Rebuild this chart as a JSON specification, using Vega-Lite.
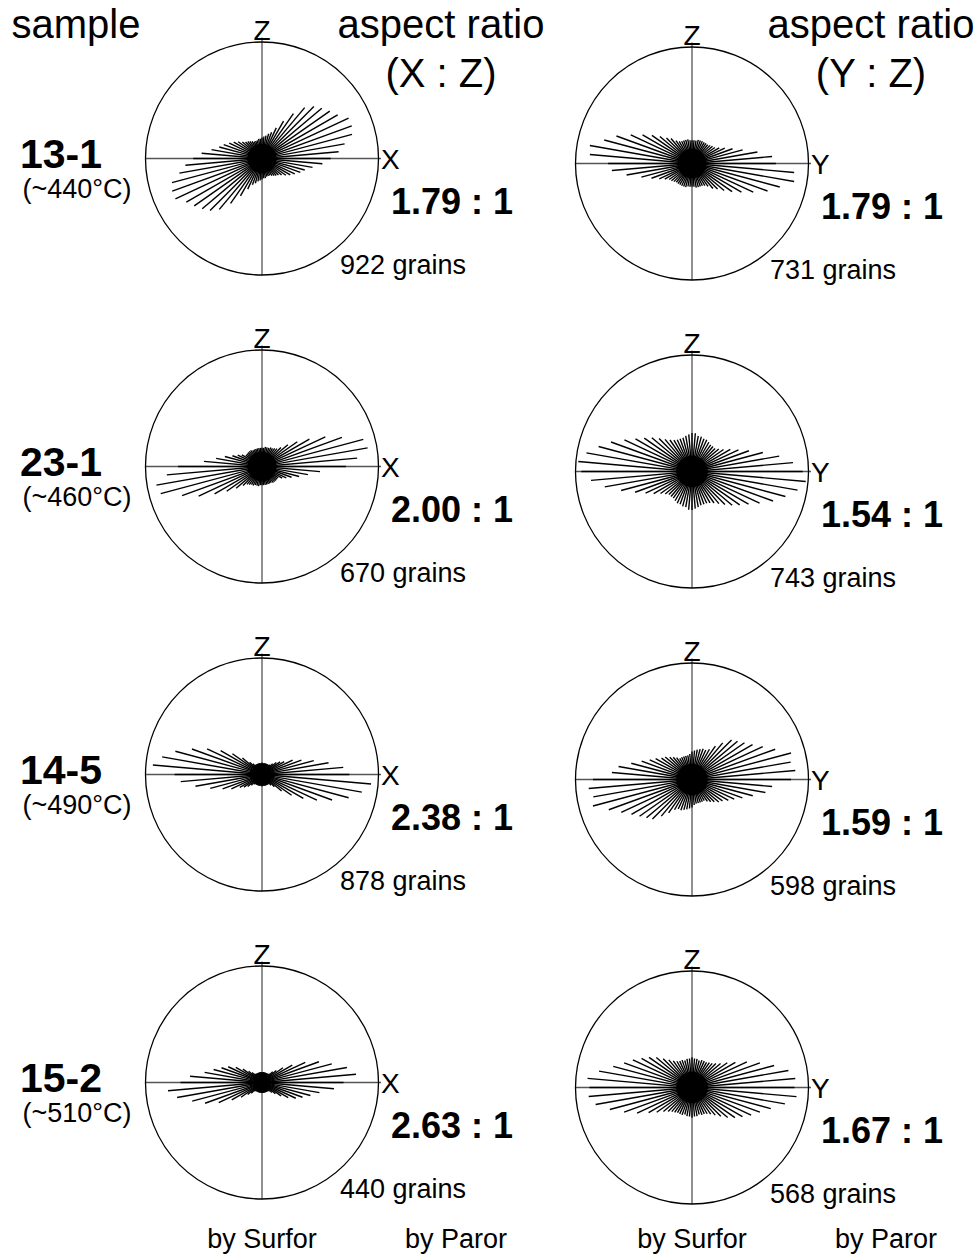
{
"$schema": "https://vega.github.io/schema/vega-lite/v6.json",
"width": 978, "height": 1255,
"autosize": {"type": "fit", "contains": "padding"},
"padding": 0,
"background": "white",
"config": {"view": {"stroke": null}, "text": {"font": "Liberation Sans", "color": "black"}},
"datasets": {
"panels": [
{"panel":0,"row":0,"col":0,"sample":"13-1","temp":"(~440°C)","plane":"X","ratio":"1.79 : 1","grains":922,"core":0.125},
{"panel":1,"row":0,"col":1,"sample":"13-1","temp":"(~440°C)","plane":"Y","ratio":"1.79 : 1","grains":731,"core":0.125},
{"panel":2,"row":1,"col":0,"sample":"23-1","temp":"(~460°C)","plane":"X","ratio":"2.00 : 1","grains":670,"core":0.125},
{"panel":3,"row":1,"col":1,"sample":"23-1","temp":"(~460°C)","plane":"Y","ratio":"1.54 : 1","grains":743,"core":0.135},
{"panel":4,"row":2,"col":0,"sample":"14-5","temp":"(~490°C)","plane":"X","ratio":"2.38 : 1","grains":878,"core":0.09},
{"panel":5,"row":2,"col":1,"sample":"14-5","temp":"(~490°C)","plane":"Y","ratio":"1.59 : 1","grains":598,"core":0.135},
{"panel":6,"row":3,"col":0,"sample":"15-2","temp":"(~510°C)","plane":"X","ratio":"2.63 : 1","grains":440,"core":0.075},
{"panel":7,"row":3,"col":1,"sample":"15-2","temp":"(~510°C)","plane":"Y","ratio":"1.67 : 1","grains":568,"core":0.135}
],
"captions": [
{"kind":"sampleHead","col":0,"text":"sample"},
{"kind":"head1","col":0,"text":"aspect ratio"},
{"kind":"head2","col":0,"text":"(X : Z)"},
{"kind":"head1","col":1,"text":"aspect ratio"},
{"kind":"head2","col":1,"text":"(Y : Z)"},
{"kind":"footL","col":0,"text":"by Surfor"},
{"kind":"footR","col":0,"text":"by Paror"},
{"kind":"footL","col":1,"text":"by Surfor"},
{"kind":"footR","col":1,"text":"by Paror"}
],
"rose": [
{"panel":0,"angle":0,"len":0.59},{"panel":0,"angle":5,"len":0.66},{"panel":0,"angle":10,"len":0.72},{"panel":0,"angle":15,"len":0.80},{"panel":0,"angle":20,"len":0.82},{"panel":0,"angle":25,"len":0.82},{"panel":0,"angle":30,"len":0.75},{"panel":0,"angle":35,"len":0.71},{"panel":0,"angle":40,"len":0.67},{"panel":0,"angle":45,"len":0.63},{"panel":0,"angle":50,"len":0.57},{"panel":0,"angle":55,"len":0.47},{"panel":0,"angle":60,"len":0.37},{"panel":0,"angle":65,"len":0.29},{"panel":0,"angle":70,"len":0.24},{"panel":0,"angle":75,"len":0.22},{"panel":0,"angle":80,"len":0.20},{"panel":0,"angle":85,"len":0.19},{"panel":0,"angle":90,"len":0.18},{"panel":0,"angle":95,"len":0.17},{"panel":0,"angle":100,"len":0.17},{"panel":0,"angle":105,"len":0.16},{"panel":0,"angle":110,"len":0.16},{"panel":0,"angle":115,"len":0.16},{"panel":0,"angle":120,"len":0.17},{"panel":0,"angle":125,"len":0.18},{"panel":0,"angle":130,"len":0.19},{"panel":0,"angle":135,"len":0.20},{"panel":0,"angle":140,"len":0.22},{"panel":0,"angle":145,"len":0.25},{"panel":0,"angle":150,"len":0.28},{"panel":0,"angle":155,"len":0.31},{"panel":0,"angle":160,"len":0.35},{"panel":0,"angle":165,"len":0.38},{"panel":0,"angle":170,"len":0.44},{"panel":0,"angle":175,"len":0.52},
{"panel":1,"angle":0,"len":0.72},{"panel":1,"angle":5,"len":0.69},{"panel":1,"angle":10,"len":0.57},{"panel":1,"angle":15,"len":0.45},{"panel":1,"angle":20,"len":0.37},{"panel":1,"angle":25,"len":0.31},{"panel":1,"angle":30,"len":0.27},{"panel":1,"angle":35,"len":0.24},{"panel":1,"angle":40,"len":0.23},{"panel":1,"angle":45,"len":0.22},{"panel":1,"angle":50,"len":0.21},{"panel":1,"angle":55,"len":0.21},{"panel":1,"angle":60,"len":0.21},{"panel":1,"angle":65,"len":0.21},{"panel":1,"angle":70,"len":0.21},{"panel":1,"angle":75,"len":0.21},{"panel":1,"angle":80,"len":0.20},{"panel":1,"angle":85,"len":0.20},{"panel":1,"angle":90,"len":0.20},{"panel":1,"angle":95,"len":0.20},{"panel":1,"angle":100,"len":0.21},{"panel":1,"angle":105,"len":0.21},{"panel":1,"angle":110,"len":0.21},{"panel":1,"angle":115,"len":0.21},{"panel":1,"angle":120,"len":0.22},{"panel":1,"angle":125,"len":0.24},{"panel":1,"angle":130,"len":0.28},{"panel":1,"angle":135,"len":0.31},{"panel":1,"angle":140,"len":0.36},{"panel":1,"angle":145,"len":0.42},{"panel":1,"angle":150,"len":0.49},{"panel":1,"angle":155,"len":0.58},{"panel":1,"angle":160,"len":0.69},{"panel":1,"angle":165,"len":0.78},{"panel":1,"angle":170,"len":0.89},{"panel":1,"angle":175,"len":0.88},
{"panel":2,"angle":0,"len":0.72},{"panel":2,"angle":5,"len":0.82},{"panel":2,"angle":10,"len":0.92},{"panel":2,"angle":15,"len":0.90},{"panel":2,"angle":20,"len":0.73},{"panel":2,"angle":25,"len":0.60},{"panel":2,"angle":30,"len":0.47},{"panel":2,"angle":35,"len":0.37},{"panel":2,"angle":40,"len":0.29},{"panel":2,"angle":45,"len":0.23},{"panel":2,"angle":50,"len":0.20},{"panel":2,"angle":55,"len":0.19},{"panel":2,"angle":60,"len":0.18},{"panel":2,"angle":65,"len":0.18},{"panel":2,"angle":70,"len":0.17},{"panel":2,"angle":75,"len":0.17},{"panel":2,"angle":80,"len":0.17},{"panel":2,"angle":85,"len":0.16},{"panel":2,"angle":90,"len":0.16},{"panel":2,"angle":95,"len":0.16},{"panel":2,"angle":100,"len":0.16},{"panel":2,"angle":105,"len":0.16},{"panel":2,"angle":110,"len":0.16},{"panel":2,"angle":115,"len":0.16},{"panel":2,"angle":120,"len":0.16},{"panel":2,"angle":125,"len":0.17},{"panel":2,"angle":130,"len":0.17},{"panel":2,"angle":135,"len":0.17},{"panel":2,"angle":140,"len":0.17},{"panel":2,"angle":145,"len":0.17},{"panel":2,"angle":150,"len":0.20},{"panel":2,"angle":155,"len":0.23},{"panel":2,"angle":160,"len":0.27},{"panel":2,"angle":165,"len":0.33},{"panel":2,"angle":170,"len":0.40},{"panel":2,"angle":175,"len":0.50},
{"panel":3,"angle":0,"len":0.95},{"panel":3,"angle":5,"len":0.87},{"panel":3,"angle":10,"len":0.76},{"panel":3,"angle":15,"len":0.63},{"panel":3,"angle":20,"len":0.52},{"panel":3,"angle":25,"len":0.44},{"panel":3,"angle":30,"len":0.38},{"panel":3,"angle":35,"len":0.33},{"panel":3,"angle":40,"len":0.30},{"panel":3,"angle":45,"len":0.28},{"panel":3,"angle":50,"len":0.28},{"panel":3,"angle":55,"len":0.28},{"panel":3,"angle":60,"len":0.29},{"panel":3,"angle":65,"len":0.30},{"panel":3,"angle":70,"len":0.30},{"panel":3,"angle":75,"len":0.31},{"panel":3,"angle":80,"len":0.31},{"panel":3,"angle":85,"len":0.33},{"panel":3,"angle":90,"len":0.33},{"panel":3,"angle":95,"len":0.32},{"panel":3,"angle":100,"len":0.31},{"panel":3,"angle":105,"len":0.30},{"panel":3,"angle":110,"len":0.30},{"panel":3,"angle":115,"len":0.30},{"panel":3,"angle":120,"len":0.31},{"panel":3,"angle":125,"len":0.33},{"panel":3,"angle":130,"len":0.36},{"panel":3,"angle":135,"len":0.40},{"panel":3,"angle":140,"len":0.45},{"panel":3,"angle":145,"len":0.50},{"panel":3,"angle":150,"len":0.56},{"panel":3,"angle":155,"len":0.64},{"panel":3,"angle":160,"len":0.74},{"panel":3,"angle":165,"len":0.83},{"panel":3,"angle":170,"len":0.92},{"panel":3,"angle":175,"len":0.98},
{"panel":4,"angle":0,"len":0.75},{"panel":4,"angle":5,"len":0.70},{"panel":4,"angle":10,"len":0.58},{"panel":4,"angle":15,"len":0.46},{"panel":4,"angle":20,"len":0.36},{"panel":4,"angle":25,"len":0.29},{"panel":4,"angle":30,"len":0.22},{"panel":4,"angle":35,"len":0.19},{"panel":4,"angle":40,"len":0.16},{"panel":4,"angle":45,"len":0.13},{"panel":4,"angle":50,"len":0.11},{"panel":4,"angle":55,"len":0.10},{"panel":4,"angle":60,"len":0.10},{"panel":4,"angle":65,"len":0.10},{"panel":4,"angle":70,"len":0.10},{"panel":4,"angle":75,"len":0.10},{"panel":4,"angle":80,"len":0.10},{"panel":4,"angle":85,"len":0.10},{"panel":4,"angle":90,"len":0.10},{"panel":4,"angle":95,"len":0.10},{"panel":4,"angle":100,"len":0.10},{"panel":4,"angle":105,"len":0.10},{"panel":4,"angle":110,"len":0.10},{"panel":4,"angle":115,"len":0.10},{"panel":4,"angle":120,"len":0.10},{"panel":4,"angle":125,"len":0.10},{"panel":4,"angle":130,"len":0.12},{"panel":4,"angle":135,"len":0.15},{"panel":4,"angle":140,"len":0.22},{"panel":4,"angle":145,"len":0.31},{"panel":4,"angle":150,"len":0.41},{"panel":4,"angle":155,"len":0.52},{"panel":4,"angle":160,"len":0.64},{"panel":4,"angle":165,"len":0.77},{"panel":4,"angle":170,"len":0.87},{"panel":4,"angle":175,"len":0.94},
{"panel":5,"angle":0,"len":0.85},{"panel":5,"angle":5,"len":0.89},{"panel":5,"angle":10,"len":0.86},{"panel":5,"angle":15,"len":0.88},{"panel":5,"angle":20,"len":0.76},{"panel":5,"angle":25,"len":0.67},{"panel":5,"angle":30,"len":0.60},{"panel":5,"angle":35,"len":0.55},{"panel":5,"angle":40,"len":0.51},{"panel":5,"angle":45,"len":0.48},{"panel":5,"angle":50,"len":0.41},{"panel":5,"angle":55,"len":0.35},{"panel":5,"angle":60,"len":0.30},{"panel":5,"angle":65,"len":0.28},{"panel":5,"angle":70,"len":0.28},{"panel":5,"angle":75,"len":0.27},{"panel":5,"angle":80,"len":0.26},{"panel":5,"angle":85,"len":0.25},{"panel":5,"angle":90,"len":0.24},{"panel":5,"angle":95,"len":0.22},{"panel":5,"angle":100,"len":0.21},{"panel":5,"angle":105,"len":0.21},{"panel":5,"angle":110,"len":0.21},{"panel":5,"angle":115,"len":0.21},{"panel":5,"angle":120,"len":0.21},{"panel":5,"angle":125,"len":0.23},{"panel":5,"angle":130,"len":0.25},{"panel":5,"angle":135,"len":0.27},{"panel":5,"angle":140,"len":0.30},{"panel":5,"angle":145,"len":0.32},{"panel":5,"angle":150,"len":0.36},{"panel":5,"angle":155,"len":0.40},{"panel":5,"angle":160,"len":0.46},{"panel":5,"angle":165,"len":0.54},{"panel":5,"angle":170,"len":0.64},{"panel":5,"angle":175,"len":0.69},
{"panel":6,"angle":0,"len":0.70},{"panel":6,"angle":5,"len":0.81},{"panel":6,"angle":10,"len":0.74},{"panel":6,"angle":15,"len":0.62},{"panel":6,"angle":20,"len":0.52},{"panel":6,"angle":25,"len":0.41},{"panel":6,"angle":30,"len":0.30},{"panel":6,"angle":35,"len":0.22},{"panel":6,"angle":40,"len":0.16},{"panel":6,"angle":45,"len":0.13},{"panel":6,"angle":50,"len":0.10},{"panel":6,"angle":55,"len":0.09},{"panel":6,"angle":60,"len":0.09},{"panel":6,"angle":65,"len":0.09},{"panel":6,"angle":70,"len":0.09},{"panel":6,"angle":75,"len":0.09},{"panel":6,"angle":80,"len":0.09},{"panel":6,"angle":85,"len":0.09},{"panel":6,"angle":90,"len":0.09},{"panel":6,"angle":95,"len":0.09},{"panel":6,"angle":100,"len":0.09},{"panel":6,"angle":105,"len":0.09},{"panel":6,"angle":110,"len":0.09},{"panel":6,"angle":115,"len":0.09},{"panel":6,"angle":120,"len":0.09},{"panel":6,"angle":125,"len":0.09},{"panel":6,"angle":130,"len":0.10},{"panel":6,"angle":135,"len":0.12},{"panel":6,"angle":140,"len":0.15},{"panel":6,"angle":145,"len":0.20},{"panel":6,"angle":150,"len":0.26},{"panel":6,"angle":155,"len":0.32},{"panel":6,"angle":160,"len":0.37},{"panel":6,"angle":165,"len":0.43},{"panel":6,"angle":170,"len":0.50},{"panel":6,"angle":175,"len":0.62},
{"panel":7,"angle":0,"len":0.88},{"panel":7,"angle":5,"len":0.89},{"panel":7,"angle":10,"len":0.84},{"panel":7,"angle":15,"len":0.73},{"panel":7,"angle":20,"len":0.62},{"panel":7,"angle":25,"len":0.52},{"panel":7,"angle":30,"len":0.43},{"panel":7,"angle":35,"len":0.37},{"panel":7,"angle":40,"len":0.32},{"panel":7,"angle":45,"len":0.29},{"panel":7,"angle":50,"len":0.27},{"panel":7,"angle":55,"len":0.26},{"panel":7,"angle":60,"len":0.25},{"panel":7,"angle":65,"len":0.25},{"panel":7,"angle":70,"len":0.25},{"panel":7,"angle":75,"len":0.24},{"panel":7,"angle":80,"len":0.25},{"panel":7,"angle":85,"len":0.25},{"panel":7,"angle":90,"len":0.26},{"panel":7,"angle":95,"len":0.25},{"panel":7,"angle":100,"len":0.25},{"panel":7,"angle":105,"len":0.24},{"panel":7,"angle":110,"len":0.25},{"panel":7,"angle":115,"len":0.25},{"panel":7,"angle":120,"len":0.26},{"panel":7,"angle":125,"len":0.28},{"panel":7,"angle":130,"len":0.31},{"panel":7,"angle":135,"len":0.35},{"panel":7,"angle":140,"len":0.40},{"panel":7,"angle":145,"len":0.45},{"panel":7,"angle":150,"len":0.50},{"panel":7,"angle":155,"len":0.56},{"panel":7,"angle":160,"len":0.62},{"panel":7,"angle":165,"len":0.70},{"panel":7,"angle":170,"len":0.81},{"panel":7,"angle":175,"len":0.90}
]
},
"encoding": {
"x": {"field": "px", "type": "quantitative", "scale": {"domain": [0, 978], "nice": false, "zero": false}, "axis": null},
"y": {"field": "py", "type": "quantitative", "scale": {"domain": [0, 1255], "reverse": true, "nice": false, "zero": false}, "axis": null}
},
"layer": [
{
"data": {"name": "panels"},
"transform": [
{"calculate": "262 + 430 * datum.col", "as": "cx"},
{"calculate": "158.5 + 308 * datum.row + 5 * datum.col", "as": "cy"},
{"calculate": "datum.cx - 116.5", "as": "px"},
{"calculate": "datum.cx + 119", "as": "px2"},
{"calculate": "datum.cy", "as": "py"}
],
"mark": {"type": "rule", "color": "#555555", "strokeWidth": 1.3},
"encoding": {"x2": {"field": "px2"}}
},
{
"data": {"name": "panels"},
"transform": [
{"calculate": "262 + 430 * datum.col", "as": "cx"},
{"calculate": "158.5 + 308 * datum.row + 5 * datum.col", "as": "cy"},
{"calculate": "datum.cx", "as": "px"},
{"calculate": "datum.cy - 121", "as": "py"},
{"calculate": "datum.cy + 116.5", "as": "py2"}
],
"mark": {"type": "rule", "color": "#555555", "strokeWidth": 1.3},
"encoding": {"y2": {"field": "py2"}}
},
{
"data": {"name": "panels"},
"transform": [
{"calculate": "262 + 430 * datum.col", "as": "px"},
{"calculate": "158.5 + 308 * datum.row + 5 * datum.col", "as": "py"}
],
"mark": {"type": "point", "shape": "circle", "filled": false, "stroke": "black", "strokeWidth": 1.3, "size": 54289, "opacity": 1}
},
{
"data": {"name": "rose"},
"transform": [
{"calculate": "floor(datum.panel / 2)", "as": "row"},
{"calculate": "datum.panel % 2", "as": "col"},
{"calculate": "262 + 430 * datum.col", "as": "cx"},
{"calculate": "158.5 + 308 * datum.row + 5 * datum.col", "as": "cy"},
{"calculate": "datum.len * 116.5 * cos(datum.angle * PI / 180)", "as": "dx"},
{"calculate": "datum.len * 116.5 * sin(datum.angle * PI / 180)", "as": "dy"},
{"calculate": "datum.cx + datum.dx", "as": "px"},
{"calculate": "datum.cx - datum.dx", "as": "px2"},
{"calculate": "datum.cy - datum.dy", "as": "py"},
{"calculate": "datum.cy + datum.dy", "as": "py2"}
],
"mark": {"type": "rule", "color": "black", "strokeWidth": 1.4},
"encoding": {"x2": {"field": "px2"}, "y2": {"field": "py2"}}
},
{
"data": {"name": "panels"},
"transform": [
{"calculate": "262 + 430 * datum.col", "as": "px"},
{"calculate": "158.5 + 308 * datum.row + 5 * datum.col", "as": "py"},
{"calculate": "pow(2 * datum.core * 116.5, 2)", "as": "bsize"}
],
"mark": {"type": "point", "shape": "circle", "filled": true, "color": "black", "opacity": 1, "strokeWidth": 0},
"encoding": {"size": {"field": "bsize", "type": "quantitative", "scale": null}}
},
{
"data": {"name": "panels"},
"transform": [
{"filter": "datum.col == 0"},
{"calculate": "20", "as": "px"},
{"calculate": "158.5 + 308 * datum.row + 9", "as": "py"}
],
"mark": {"type": "text", "align": "left", "baseline": "alphabetic", "fontSize": 41, "fontWeight": "bold"},
"encoding": {"text": {"field": "sample"}}
},
{
"data": {"name": "panels"},
"transform": [
{"filter": "datum.col == 0"},
{"calculate": "77", "as": "px"},
{"calculate": "158.5 + 308 * datum.row + 39", "as": "py"}
],
"mark": {"type": "text", "align": "center", "baseline": "alphabetic", "fontSize": 27},
"encoding": {"text": {"field": "temp"}}
},
{
"data": {"name": "panels"},
"transform": [
{"calculate": "262 + 430 * datum.col", "as": "px"},
{"calculate": "158.5 + 308 * datum.row + 5 * datum.col - 118.5", "as": "py"},
{"calculate": "'Z'", "as": "vaxis"}
],
"mark": {"type": "text", "align": "center", "baseline": "alphabetic", "fontSize": 28},
"encoding": {"text": {"field": "vaxis"}}
},
{
"data": {"name": "panels"},
"transform": [
{"calculate": "262 + 430 * datum.col + 119", "as": "px"},
{"calculate": "158.5 + 308 * datum.row + 5 * datum.col + 10", "as": "py"}
],
"mark": {"type": "text", "align": "left", "baseline": "alphabetic", "fontSize": 28},
"encoding": {"text": {"field": "plane"}}
},
{
"data": {"name": "panels"},
"transform": [
{"calculate": "262 + 430 * datum.col + 190", "as": "px"},
{"calculate": "158.5 + 308 * datum.row + 5 * datum.col + 55", "as": "py"}
],
"mark": {"type": "text", "align": "center", "baseline": "alphabetic", "fontSize": 36, "fontWeight": "bold"},
"encoding": {"text": {"field": "ratio"}}
},
{
"data": {"name": "panels"},
"transform": [
{"calculate": "262 + 430 * datum.col + 141", "as": "px"},
{"calculate": "158.5 + 308 * datum.row + 5 * datum.col + 115", "as": "py"},
{"calculate": "datum.grains + ' grains'", "as": "label"}
],
"mark": {"type": "text", "align": "center", "baseline": "alphabetic", "fontSize": 27},
"encoding": {"text": {"field": "label"}}
},
{
"data": {"name": "captions"},
"transform": [
{"calculate": "262 + 430 * datum.col", "as": "cx"},
{"calculate": "datum.kind == 'sampleHead' ? 76 : (datum.kind == 'footL' ? datum.cx : (datum.kind == 'footR' ? datum.cx + 194 : datum.cx + 179))", "as": "px"},
{"calculate": "datum.kind == 'head2' ? 87 : (datum.kind == 'footL' || datum.kind == 'footR' ? 1248 : 38)", "as": "py"}
],
"mark": {"type": "text", "align": "center", "baseline": "alphabetic"},
"encoding": {
"text": {"field": "text"},
"size": {"condition": {"test": "datum.kind == 'footL' || datum.kind == 'footR'", "value": 27}, "value": 40}
}
}
]
}
